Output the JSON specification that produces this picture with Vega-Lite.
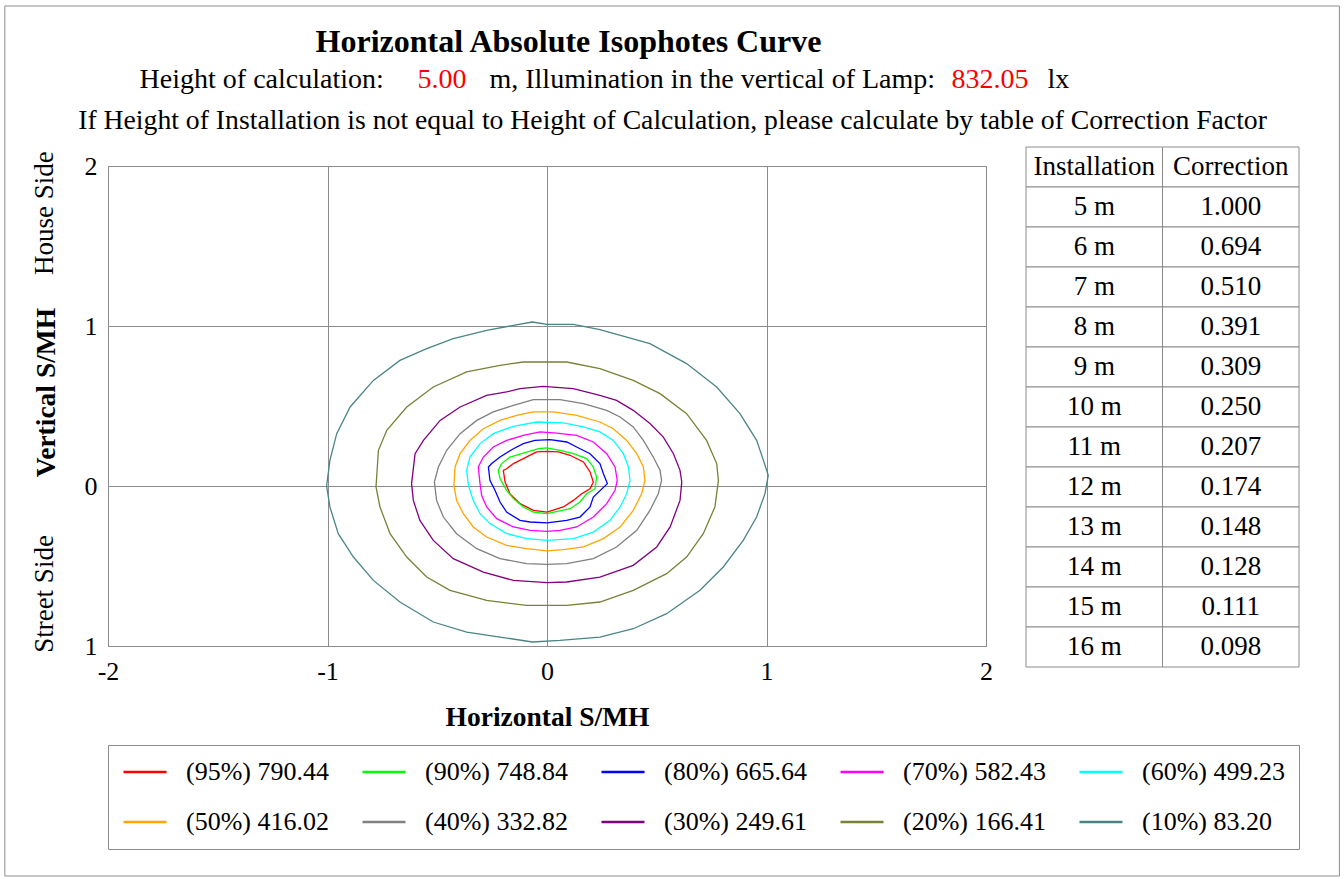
{
"$schema": "https://vega.github.io/schema/vega-lite/v6.json",
"width": 878, "height": 480,
"autosize": {"type": "none"},
"padding": {"left": 108, "top": 166, "right": 358, "bottom": 233},
"background": "white",
"datasets": {
"contours": [
{"level":"(95%) 790.44","i":0,"x":-0.047,"y":0.213},{"level":"(95%) 790.44","i":1,"x":0,"y":0.217},{"level":"(95%) 790.44","i":2,"x":0.052,"y":0.213},{"level":"(95%) 790.44","i":3,"x":0.105,"y":0.192},{"level":"(95%) 790.44","i":4,"x":0.166,"y":0.150},{"level":"(95%) 790.44","i":5,"x":0.196,"y":0.088},{"level":"(95%) 790.44","i":6,"x":0.211,"y":0.025},{"level":"(95%) 790.44","i":7,"x":0.196,"y":-0.017},{"level":"(95%) 790.44","i":8,"x":0.158,"y":-0.048},{"level":"(95%) 790.44","i":9,"x":0.120,"y":-0.090},{"level":"(95%) 790.44","i":10,"x":0.074,"y":-0.131},{"level":"(95%) 790.44","i":11,"x":0,"y":-0.163},{"level":"(95%) 790.44","i":12,"x":-0.062,"y":-0.152},{"level":"(95%) 790.44","i":13,"x":-0.123,"y":-0.110},{"level":"(95%) 790.44","i":14,"x":-0.169,"y":-0.048},{"level":"(95%) 790.44","i":15,"x":-0.191,"y":0.025},{"level":"(95%) 790.44","i":16,"x":-0.199,"y":0.098},{"level":"(95%) 790.44","i":17,"x":-0.184,"y":0.108},{"level":"(95%) 790.44","i":18,"x":-0.153,"y":0.140},{"level":"(95%) 790.44","i":19,"x":-0.108,"y":0.171},{"level":"(95%) 790.44","i":20,"x":-0.047,"y":0.213},
{"level":"(90%) 748.84","i":0,"x":-0.039,"y":0.233},{"level":"(90%) 748.84","i":1,"x":0,"y":0.238},{"level":"(90%) 748.84","i":2,"x":0.059,"y":0.223},{"level":"(90%) 748.84","i":3,"x":0.120,"y":0.202},{"level":"(90%) 748.84","i":4,"x":0.181,"y":0.171},{"level":"(90%) 748.84","i":5,"x":0.211,"y":0.119},{"level":"(90%) 748.84","i":6,"x":0.226,"y":0.056},{"level":"(90%) 748.84","i":7,"x":0.219,"y":-0.017},{"level":"(90%) 748.84","i":8,"x":0.181,"y":-0.048},{"level":"(90%) 748.84","i":9,"x":0.150,"y":-0.100},{"level":"(90%) 748.84","i":10,"x":0.105,"y":-0.142},{"level":"(90%) 748.84","i":11,"x":0,"y":-0.173},{"level":"(90%) 748.84","i":12,"x":-0.062,"y":-0.163},{"level":"(90%) 748.84","i":13,"x":-0.108,"y":-0.131},{"level":"(90%) 748.84","i":14,"x":-0.153,"y":-0.079},{"level":"(90%) 748.84","i":15,"x":-0.184,"y":-0.027},{"level":"(90%) 748.84","i":16,"x":-0.214,"y":0.046},{"level":"(90%) 748.84","i":17,"x":-0.222,"y":0.098},{"level":"(90%) 748.84","i":18,"x":-0.207,"y":0.140},{"level":"(90%) 748.84","i":19,"x":-0.169,"y":0.181},{"level":"(90%) 748.84","i":20,"x":-0.108,"y":0.206},{"level":"(90%) 748.84","i":21,"x":-0.039,"y":0.233},
{"level":"(80%) 665.64","i":0,"x":-0.055,"y":0.285},{"level":"(80%) 665.64","i":1,"x":0.014,"y":0.290},{"level":"(80%) 665.64","i":2,"x":0.090,"y":0.275},{"level":"(80%) 665.64","i":3,"x":0.135,"y":0.244},{"level":"(80%) 665.64","i":4,"x":0.196,"y":0.202},{"level":"(80%) 665.64","i":5,"x":0.241,"y":0.140},{"level":"(80%) 665.64","i":6,"x":0.257,"y":0.077},{"level":"(80%) 665.64","i":7,"x":0.275,"y":0.015},{"level":"(80%) 665.64","i":8,"x":0.211,"y":-0.069},{"level":"(80%) 665.64","i":9,"x":0.196,"y":-0.131},{"level":"(80%) 665.64","i":10,"x":0.150,"y":-0.194},{"level":"(80%) 665.64","i":11,"x":0.090,"y":-0.215},{"level":"(80%) 665.64","i":12,"x":0,"y":-0.231},{"level":"(80%) 665.64","i":13,"x":-0.077,"y":-0.225},{"level":"(80%) 665.64","i":14,"x":-0.123,"y":-0.215},{"level":"(80%) 665.64","i":15,"x":-0.184,"y":-0.163},{"level":"(80%) 665.64","i":16,"x":-0.214,"y":-0.100},{"level":"(80%) 665.64","i":17,"x":-0.237,"y":-0.027},{"level":"(80%) 665.64","i":18,"x":-0.260,"y":0.035},{"level":"(80%) 665.64","i":19,"x":-0.267,"y":0.119},{"level":"(80%) 665.64","i":20,"x":-0.252,"y":0.140},{"level":"(80%) 665.64","i":21,"x":-0.214,"y":0.181},{"level":"(80%) 665.64","i":22,"x":-0.153,"y":0.233},{"level":"(80%) 665.64","i":23,"x":-0.108,"y":0.265},{"level":"(80%) 665.64","i":24,"x":-0.055,"y":0.285},
{"level":"(70%) 582.43","i":0,"x":-0.032,"y":0.338},{"level":"(70%) 582.43","i":1,"x":0.044,"y":0.331},{"level":"(70%) 582.43","i":2,"x":0.135,"y":0.317},{"level":"(70%) 582.43","i":3,"x":0.211,"y":0.275},{"level":"(70%) 582.43","i":4,"x":0.272,"y":0.202},{"level":"(70%) 582.43","i":5,"x":0.310,"y":0.119},{"level":"(70%) 582.43","i":6,"x":0.320,"y":0.035},{"level":"(70%) 582.43","i":7,"x":0.310,"y":-0.027},{"level":"(70%) 582.43","i":8,"x":0.272,"y":-0.110},{"level":"(70%) 582.43","i":9,"x":0.211,"y":-0.194},{"level":"(70%) 582.43","i":10,"x":0.135,"y":-0.256},{"level":"(70%) 582.43","i":11,"x":0.059,"y":-0.277},{"level":"(70%) 582.43","i":12,"x":0,"y":-0.283},{"level":"(70%) 582.43","i":13,"x":-0.077,"y":-0.277},{"level":"(70%) 582.43","i":14,"x":-0.153,"y":-0.256},{"level":"(70%) 582.43","i":15,"x":-0.229,"y":-0.204},{"level":"(70%) 582.43","i":16,"x":-0.275,"y":-0.131},{"level":"(70%) 582.43","i":17,"x":-0.298,"y":-0.058},{"level":"(70%) 582.43","i":18,"x":-0.305,"y":0.015},{"level":"(70%) 582.43","i":19,"x":-0.313,"y":0.119},{"level":"(70%) 582.43","i":20,"x":-0.290,"y":0.181},{"level":"(70%) 582.43","i":21,"x":-0.245,"y":0.244},{"level":"(70%) 582.43","i":22,"x":-0.184,"y":0.285},{"level":"(70%) 582.43","i":23,"x":-0.108,"y":0.317},{"level":"(70%) 582.43","i":24,"x":-0.032,"y":0.338},
{"level":"(60%) 499.23","i":0,"x":-0.047,"y":0.400},{"level":"(60%) 499.23","i":1,"x":0.074,"y":0.394},{"level":"(60%) 499.23","i":2,"x":0.166,"y":0.369},{"level":"(60%) 499.23","i":3,"x":0.241,"y":0.338},{"level":"(60%) 499.23","i":4,"x":0.302,"y":0.285},{"level":"(60%) 499.23","i":5,"x":0.348,"y":0.202},{"level":"(60%) 499.23","i":6,"x":0.371,"y":0.119},{"level":"(60%) 499.23","i":7,"x":0.378,"y":0.035},{"level":"(60%) 499.23","i":8,"x":0.363,"y":-0.048},{"level":"(60%) 499.23","i":9,"x":0.333,"y":-0.131},{"level":"(60%) 499.23","i":10,"x":0.287,"y":-0.215},{"level":"(60%) 499.23","i":11,"x":0.211,"y":-0.288},{"level":"(60%) 499.23","i":12,"x":0.120,"y":-0.329},{"level":"(60%) 499.23","i":13,"x":0,"y":-0.340},{"level":"(60%) 499.23","i":14,"x":-0.093,"y":-0.329},{"level":"(60%) 499.23","i":15,"x":-0.184,"y":-0.298},{"level":"(60%) 499.23","i":16,"x":-0.260,"y":-0.235},{"level":"(60%) 499.23","i":17,"x":-0.305,"y":-0.173},{"level":"(60%) 499.23","i":18,"x":-0.336,"y":-0.090},{"level":"(60%) 499.23","i":19,"x":-0.358,"y":0.004},{"level":"(60%) 499.23","i":20,"x":-0.366,"y":0.098},{"level":"(60%) 499.23","i":21,"x":-0.351,"y":0.181},{"level":"(60%) 499.23","i":22,"x":-0.305,"y":0.265},{"level":"(60%) 499.23","i":23,"x":-0.245,"y":0.327},{"level":"(60%) 499.23","i":24,"x":-0.153,"y":0.373},{"level":"(60%) 499.23","i":25,"x":-0.047,"y":0.400},
{"level":"(50%) 416.02","i":0,"x":-0.062,"y":0.463},{"level":"(50%) 416.02","i":1,"x":0.029,"y":0.463},{"level":"(50%) 416.02","i":2,"x":0.135,"y":0.442},{"level":"(50%) 416.02","i":3,"x":0.241,"y":0.400},{"level":"(50%) 416.02","i":4,"x":0.302,"y":0.358},{"level":"(50%) 416.02","i":5,"x":0.363,"y":0.285},{"level":"(50%) 416.02","i":6,"x":0.409,"y":0.202},{"level":"(50%) 416.02","i":7,"x":0.439,"y":0.119},{"level":"(50%) 416.02","i":8,"x":0.446,"y":0.035},{"level":"(50%) 416.02","i":9,"x":0.431,"y":-0.048},{"level":"(50%) 416.02","i":10,"x":0.393,"y":-0.152},{"level":"(50%) 416.02","i":11,"x":0.333,"y":-0.256},{"level":"(50%) 416.02","i":12,"x":0.257,"y":-0.329},{"level":"(50%) 416.02","i":13,"x":0.166,"y":-0.381},{"level":"(50%) 416.02","i":14,"x":0.074,"y":-0.398},{"level":"(50%) 416.02","i":15,"x":0,"y":-0.406},{"level":"(50%) 416.02","i":16,"x":-0.093,"y":-0.392},{"level":"(50%) 416.02","i":17,"x":-0.184,"y":-0.371},{"level":"(50%) 416.02","i":18,"x":-0.275,"y":-0.319},{"level":"(50%) 416.02","i":19,"x":-0.336,"y":-0.256},{"level":"(50%) 416.02","i":20,"x":-0.381,"y":-0.173},{"level":"(50%) 416.02","i":21,"x":-0.412,"y":-0.090},{"level":"(50%) 416.02","i":22,"x":-0.424,"y":0.004},{"level":"(50%) 416.02","i":23,"x":-0.419,"y":0.119},{"level":"(50%) 416.02","i":24,"x":-0.396,"y":0.202},{"level":"(50%) 416.02","i":25,"x":-0.351,"y":0.285},{"level":"(50%) 416.02","i":26,"x":-0.290,"y":0.358},{"level":"(50%) 416.02","i":27,"x":-0.214,"y":0.410},{"level":"(50%) 416.02","i":28,"x":-0.138,"y":0.442},{"level":"(50%) 416.02","i":29,"x":-0.062,"y":0.463},
{"level":"(40%) 332.82","i":0,"x":-0.062,"y":0.540},{"level":"(40%) 332.82","i":1,"x":0.059,"y":0.540},{"level":"(40%) 332.82","i":2,"x":0.166,"y":0.515},{"level":"(40%) 332.82","i":3,"x":0.272,"y":0.473},{"level":"(40%) 332.82","i":4,"x":0.333,"y":0.431},{"level":"(40%) 332.82","i":5,"x":0.393,"y":0.369},{"level":"(40%) 332.82","i":6,"x":0.439,"y":0.285},{"level":"(40%) 332.82","i":7,"x":0.484,"y":0.181},{"level":"(40%) 332.82","i":8,"x":0.515,"y":0.098},{"level":"(40%) 332.82","i":9,"x":0.522,"y":0.035},{"level":"(40%) 332.82","i":10,"x":0.507,"y":-0.048},{"level":"(40%) 332.82","i":11,"x":0.469,"y":-0.152},{"level":"(40%) 332.82","i":12,"x":0.409,"y":-0.277},{"level":"(40%) 332.82","i":13,"x":0.317,"y":-0.381},{"level":"(40%) 332.82","i":14,"x":0.211,"y":-0.454},{"level":"(40%) 332.82","i":15,"x":0.090,"y":-0.485},{"level":"(40%) 332.82","i":16,"x":0,"y":-0.490},{"level":"(40%) 332.82","i":17,"x":-0.093,"y":-0.485},{"level":"(40%) 332.82","i":18,"x":-0.214,"y":-0.454},{"level":"(40%) 332.82","i":19,"x":-0.320,"y":-0.392},{"level":"(40%) 332.82","i":20,"x":-0.412,"y":-0.298},{"level":"(40%) 332.82","i":21,"x":-0.472,"y":-0.194},{"level":"(40%) 332.82","i":22,"x":-0.503,"y":-0.090},{"level":"(40%) 332.82","i":23,"x":-0.513,"y":0.025},{"level":"(40%) 332.82","i":24,"x":-0.495,"y":0.119},{"level":"(40%) 332.82","i":25,"x":-0.457,"y":0.223},{"level":"(40%) 332.82","i":26,"x":-0.396,"y":0.327},{"level":"(40%) 332.82","i":27,"x":-0.320,"y":0.410},{"level":"(40%) 332.82","i":28,"x":-0.245,"y":0.463},{"level":"(40%) 332.82","i":29,"x":-0.153,"y":0.504},{"level":"(40%) 332.82","i":30,"x":-0.062,"y":0.540},
{"level":"(30%) 249.61","i":0,"x":-0.123,"y":0.608},{"level":"(30%) 249.61","i":1,"x":-0.017,"y":0.623},{"level":"(30%) 249.61","i":2,"x":0.120,"y":0.608},{"level":"(30%) 249.61","i":3,"x":0.241,"y":0.567},{"level":"(30%) 249.61","i":4,"x":0.317,"y":0.535},{"level":"(30%) 249.61","i":5,"x":0.393,"y":0.473},{"level":"(30%) 249.61","i":6,"x":0.469,"y":0.390},{"level":"(30%) 249.61","i":7,"x":0.530,"y":0.306},{"level":"(30%) 249.61","i":8,"x":0.576,"y":0.202},{"level":"(30%) 249.61","i":9,"x":0.606,"y":0.098},{"level":"(30%) 249.61","i":10,"x":0.614,"y":0.025},{"level":"(30%) 249.61","i":11,"x":0.606,"y":-0.090},{"level":"(30%) 249.61","i":12,"x":0.561,"y":-0.256},{"level":"(30%) 249.61","i":13,"x":0.500,"y":-0.381},{"level":"(30%) 249.61","i":14,"x":0.393,"y":-0.496},{"level":"(30%) 249.61","i":15,"x":0.241,"y":-0.569},{"level":"(30%) 249.61","i":16,"x":0.090,"y":-0.600},{"level":"(30%) 249.61","i":17,"x":0,"y":-0.604},{"level":"(30%) 249.61","i":18,"x":-0.153,"y":-0.590},{"level":"(30%) 249.61","i":19,"x":-0.290,"y":-0.538},{"level":"(30%) 249.61","i":20,"x":-0.427,"y":-0.454},{"level":"(30%) 249.61","i":21,"x":-0.518,"y":-0.340},{"level":"(30%) 249.61","i":22,"x":-0.579,"y":-0.215},{"level":"(30%) 249.61","i":23,"x":-0.609,"y":-0.090},{"level":"(30%) 249.61","i":24,"x":-0.617,"y":0.015},{"level":"(30%) 249.61","i":25,"x":-0.601,"y":0.202},{"level":"(30%) 249.61","i":26,"x":-0.563,"y":0.285},{"level":"(30%) 249.61","i":27,"x":-0.487,"y":0.410},{"level":"(30%) 249.61","i":28,"x":-0.396,"y":0.494},{"level":"(30%) 249.61","i":29,"x":-0.275,"y":0.567},{"level":"(30%) 249.61","i":30,"x":-0.184,"y":0.588},{"level":"(30%) 249.61","i":31,"x":-0.123,"y":0.608},
{"level":"(20%) 166.41","i":0,"x":-0.108,"y":0.775},{"level":"(20%) 166.41","i":1,"x":0,"y":0.775},{"level":"(20%) 166.41","i":2,"x":0.090,"y":0.775},{"level":"(20%) 166.41","i":3,"x":0.241,"y":0.733},{"level":"(20%) 166.41","i":4,"x":0.393,"y":0.660},{"level":"(20%) 166.41","i":5,"x":0.515,"y":0.577},{"level":"(20%) 166.41","i":6,"x":0.636,"y":0.452},{"level":"(20%) 166.41","i":7,"x":0.727,"y":0.285},{"level":"(20%) 166.41","i":8,"x":0.773,"y":0.140},{"level":"(20%) 166.41","i":9,"x":0.781,"y":0.035},{"level":"(20%) 166.41","i":10,"x":0.765,"y":-0.131},{"level":"(20%) 166.41","i":11,"x":0.712,"y":-0.298},{"level":"(20%) 166.41","i":12,"x":0.636,"y":-0.444},{"level":"(20%) 166.41","i":13,"x":0.545,"y":-0.548},{"level":"(20%) 166.41","i":14,"x":0.393,"y":-0.652},{"level":"(20%) 166.41","i":15,"x":0.241,"y":-0.725},{"level":"(20%) 166.41","i":16,"x":0.090,"y":-0.746},{"level":"(20%) 166.41","i":17,"x":-0.093,"y":-0.746},{"level":"(20%) 166.41","i":18,"x":-0.275,"y":-0.715},{"level":"(20%) 166.41","i":19,"x":-0.442,"y":-0.652},{"level":"(20%) 166.41","i":20,"x":-0.548,"y":-0.569},{"level":"(20%) 166.41","i":21,"x":-0.639,"y":-0.444},{"level":"(20%) 166.41","i":22,"x":-0.715,"y":-0.298},{"level":"(20%) 166.41","i":23,"x":-0.761,"y":-0.131},{"level":"(20%) 166.41","i":24,"x":-0.779,"y":-0.006},{"level":"(20%) 166.41","i":25,"x":-0.768,"y":0.223},{"level":"(20%) 166.41","i":26,"x":-0.730,"y":0.348},{"level":"(20%) 166.41","i":27,"x":-0.639,"y":0.494},{"level":"(20%) 166.41","i":28,"x":-0.518,"y":0.619},{"level":"(20%) 166.41","i":29,"x":-0.366,"y":0.713},{"level":"(20%) 166.41","i":30,"x":-0.214,"y":0.754},{"level":"(20%) 166.41","i":31,"x":-0.108,"y":0.775},
{"level":"(10%) 83.20","i":0,"x":-0.067,"y":1.025},{"level":"(10%) 83.20","i":1,"x":0,"y":1.010},{"level":"(10%) 83.20","i":2,"x":0.120,"y":1.010},{"level":"(10%) 83.20","i":3,"x":0.241,"y":0.977},{"level":"(10%) 83.20","i":4,"x":0.469,"y":0.890},{"level":"(10%) 83.20","i":5,"x":0.636,"y":0.765},{"level":"(10%) 83.20","i":6,"x":0.773,"y":0.619},{"level":"(10%) 83.20","i":7,"x":0.879,"y":0.452},{"level":"(10%) 83.20","i":8,"x":0.955,"y":0.285},{"level":"(10%) 83.20","i":9,"x":0.986,"y":0.160},{"level":"(10%) 83.20","i":10,"x":1.008,"y":0.067},{"level":"(10%) 83.20","i":11,"x":0.993,"y":-0.048},{"level":"(10%) 83.20","i":12,"x":0.955,"y":-0.194},{"level":"(10%) 83.20","i":13,"x":0.894,"y":-0.340},{"level":"(10%) 83.20","i":14,"x":0.803,"y":-0.506},{"level":"(10%) 83.20","i":15,"x":0.697,"y":-0.652},{"level":"(10%) 83.20","i":16,"x":0.545,"y":-0.798},{"level":"(10%) 83.20","i":17,"x":0.393,"y":-0.892},{"level":"(10%) 83.20","i":18,"x":0.241,"y":-0.944},{"level":"(10%) 83.20","i":19,"x":0.059,"y":-0.965},{"level":"(10%) 83.20","i":20,"x":-0.067,"y":-0.975},{"level":"(10%) 83.20","i":21,"x":-0.214,"y":-0.944},{"level":"(10%) 83.20","i":22,"x":-0.366,"y":-0.913},{"level":"(10%) 83.20","i":23,"x":-0.518,"y":-0.850},{"level":"(10%) 83.20","i":24,"x":-0.670,"y":-0.725},{"level":"(10%) 83.20","i":25,"x":-0.791,"y":-0.590},{"level":"(10%) 83.20","i":26,"x":-0.882,"y":-0.444},{"level":"(10%) 83.20","i":27,"x":-0.951,"y":-0.298},{"level":"(10%) 83.20","i":28,"x":-0.989,"y":-0.131},{"level":"(10%) 83.20","i":29,"x":-1.004,"y":0},{"level":"(10%) 83.20","i":30,"x":-0.989,"y":0.160},{"level":"(10%) 83.20","i":31,"x":-0.958,"y":0.327},{"level":"(10%) 83.20","i":32,"x":-0.897,"y":0.494},{"level":"(10%) 83.20","i":33,"x":-0.791,"y":0.660},{"level":"(10%) 83.20","i":34,"x":-0.670,"y":0.785},{"level":"(10%) 83.20","i":35,"x":-0.548,"y":0.858},{"level":"(10%) 83.20","i":36,"x":-0.427,"y":0.921},{"level":"(10%) 83.20","i":37,"x":-0.275,"y":0.973},{"level":"(10%) 83.20","i":38,"x":-0.153,"y":1.004},{"level":"(10%) 83.20","i":39,"x":-0.067,"y":1.025}
],
"correction": [
{"Installation":"Installation","Correction":"Correction"},
{"Installation":"5 m","Correction":"1.000"},
{"Installation":"6 m","Correction":"0.694"},
{"Installation":"7 m","Correction":"0.510"},
{"Installation":"8 m","Correction":"0.391"},
{"Installation":"9 m","Correction":"0.309"},
{"Installation":"10 m","Correction":"0.250"},
{"Installation":"11 m","Correction":"0.207"},
{"Installation":"12 m","Correction":"0.174"},
{"Installation":"13 m","Correction":"0.148"},
{"Installation":"14 m","Correction":"0.128"},
{"Installation":"15 m","Correction":"0.111"},
{"Installation":"16 m","Correction":"0.098"}
]
},
"layer": [
{
"layer": [
{
"data": {"values": [{}]},
"mark": {"type": "rect", "fillOpacity": 0, "stroke": "#8c8c8c", "strokeWidth": 1},
"encoding": {
"x": {"datum": -2.47, "type": "quantitative"},
"x2": {"datum": 3.61},
"y": {"datum": 3.0, "type": "quantitative"},
"y2": {"datum": -2.4375}
}
},
{
"data": {"name": "contours"},
"mark": {"type": "line", "strokeWidth": 1.3},
"encoding": {
"x": {"field": "x", "type": "quantitative",
"scale": {"domain": [-2, 2], "nice": false, "zero": false},
"axis": {"values": [-2, -1, 0, 1, 2], "title": "Horizontal  S/MH", "grid": true, "labelFlush": false, "labelPadding": 12, "titlePadding": 19,
"labelExpr": "datum.value < 0 ? '-' + abs(datum.value) : '' + datum.value"}},
"y": {"field": "y", "type": "quantitative",
"scale": {"domain": [-1, 2], "nice": false, "zero": false},
"axis": {"values": [-1, 0, 1, 2], "title": "Vertical  S/MH", "grid": true, "labelPadding": 11,
"labelExpr": "'' + abs(datum.value)",
"titleAngle": 270, "titleAlign": "center", "titleBaseline": "middle", "titleX": -62, "titleY": 226}},
"color": {"field": "level", "type": "nominal",
"scale": {"domain": ["(95%) 790.44","(90%) 748.84","(80%) 665.64","(70%) 582.43","(60%) 499.23","(50%) 416.02","(40%) 332.82","(30%) 249.61","(20%) 166.41","(10%) 83.20"],
"range": ["#ff0000","#00ff00","#0000ff","#ff00ff","#00ffff","#ffa500","#808080","#800080","#7a8035","#4a8585"]},
"legend": {"orient": "none", "legendX": 0, "legendY": 579, "direction": "horizontal", "columns": 5, "title": null,
"symbolType": "stroke", "symbolSize": 1849, "symbolStrokeWidth": 2.5, "clipHeight": 26,
"labelFont": "Liberation Serif", "labelFontSize": 26, "labelColor": "black", "labelOffset": 18, "labelLimit": 300,
"columnPadding": 32, "rowPadding": 24, "padding": 14, "strokeColor": "#8c8c8c", "fillColor": "white"}},
"order": {"field": "i", "type": "quantitative"}
}
},
{
"data": {"values": [{}]},
"mark": {"type": "text", "text": "Horizontal Absolute Isophotes Curve", "font": "Liberation Serif", "fontSize": 32, "fontWeight": "bold", "align": "center", "baseline": "middle", "color": "black"},
"encoding": {"x": {"datum": 0.098, "type": "quantitative"}, "y": {"datum": 2.775, "type": "quantitative"}}
},
{
"data": {"values": [{}]},
"mark": {"type": "text", "text": "Height of  calculation:", "font": "Liberation Serif", "fontSize": 28, "align": "left", "baseline": "middle", "color": "black"},
"encoding": {"x": {"datum": -1.856, "type": "quantitative"}, "y": {"datum": 2.5375, "type": "quantitative"}}
},
{
"data": {"values": [{}]},
"mark": {"type": "text", "text": "5.00", "font": "Liberation Serif", "fontSize": 28, "align": "left", "baseline": "middle", "color": "#ff0000"},
"encoding": {"x": {"datum": -0.590, "type": "quantitative"}, "y": {"datum": 2.5375, "type": "quantitative"}}
},
{
"data": {"values": [{}]},
"mark": {"type": "text", "text": "m,  Illumination in the vertical of  Lamp:", "font": "Liberation Serif", "fontSize": 28, "align": "left", "baseline": "middle", "color": "black"},
"encoding": {"x": {"datum": -0.262, "type": "quantitative"}, "y": {"datum": 2.5375, "type": "quantitative"}}
},
{
"data": {"values": [{}]},
"mark": {"type": "text", "text": "832.05", "font": "Liberation Serif", "fontSize": 28, "align": "left", "baseline": "middle", "color": "#ff0000"},
"encoding": {"x": {"datum": 1.843, "type": "quantitative"}, "y": {"datum": 2.5375, "type": "quantitative"}}
},
{
"data": {"values": [{}]},
"mark": {"type": "text", "text": "lx", "font": "Liberation Serif", "fontSize": 28, "align": "left", "baseline": "middle", "color": "black"},
"encoding": {"x": {"datum": 2.280, "type": "quantitative"}, "y": {"datum": 2.5375, "type": "quantitative"}}
},
{
"data": {"values": [{}]},
"mark": {"type": "text", "text": "If Height of  Installation is not equal to Height of  Calculation, please calculate by table of  Correction Factor", "font": "Liberation Serif", "fontSize": 27.7, "align": "center", "baseline": "middle", "color": "black"},
"encoding": {"x": {"datum": 0.572, "type": "quantitative"}, "y": {"datum": 2.281, "type": "quantitative"}}
},
{
"data": {"values": [{}]},
"mark": {"type": "text", "text": "House Side", "font": "Liberation Serif", "fontSize": 27, "angle": 270, "align": "center", "baseline": "middle", "color": "black"},
"encoding": {"x": {"datum": -2.285, "type": "quantitative"}, "y": {"datum": 1.706, "type": "quantitative"}}
},
{
"data": {"values": [{}]},
"mark": {"type": "text", "text": "Street Side", "font": "Liberation Serif", "fontSize": 27, "angle": 270, "align": "center", "baseline": "middle", "color": "black"},
"encoding": {"x": {"datum": -2.285, "type": "quantitative"}, "y": {"datum": -0.675, "type": "quantitative"}}
}
]
},
{
"data": {"name": "correction"},
"transform": [{"fold": ["Installation", "Correction"], "as": ["column", "cell"]}],
"encoding": {
"x": {"field": "column", "type": "nominal", "sort": ["Installation", "Correction"], "axis": null,
"scale": {"range": [918, 1191], "paddingInner": 0, "paddingOuter": 0}},
"y": {"field": "Installation", "type": "nominal", "sort": null, "axis": null,
"scale": {"range": [-19, 501], "paddingInner": 0, "paddingOuter": 0}}
},
"layer": [
{"mark": {"type": "rect", "fill": "white", "stroke": "#8c8c8c", "strokeWidth": 1}},
{"mark": {"type": "text", "font": "Liberation Serif", "fontSize": 27, "align": "center", "baseline": "middle", "color": "black"},
"encoding": {"text": {"field": "cell", "type": "nominal"}}}
]
}
],
"resolve": {"scale": {"x": "independent", "y": "independent"}},
"config": {
"font": "Liberation Serif",
"view": {"stroke": "#8c8c8c", "strokeWidth": 1},
"axis": {"labelFont": "Liberation Serif", "labelFontSize": 26, "labelColor": "black", "titleFont": "Liberation Serif", "titleFontSize": 27.5, "titleFontWeight": "bold", "titleColor": "black", "gridColor": "#8c8c8c", "gridOpacity": 1, "gridWidth": 1, "ticks": false, "domain": false}
}
}
